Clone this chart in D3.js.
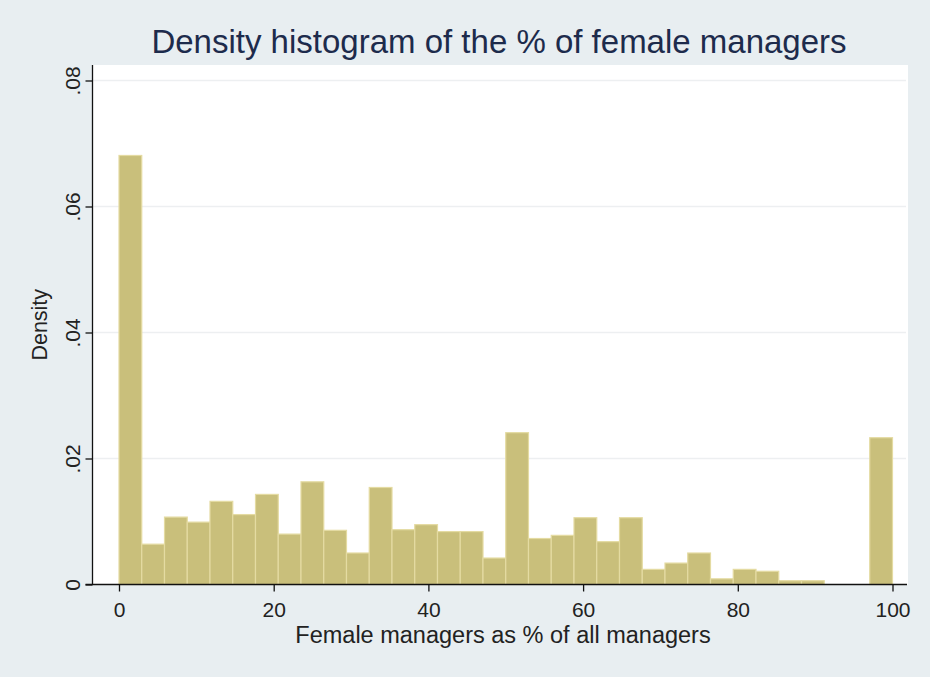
<!DOCTYPE html>
<html>
<head>
<meta charset="utf-8">
<script src="https://cdn.jsdelivr.net/npm/d3@7/dist/d3.min.js"></script>
<style>
  html, body { margin: 0; padding: 0; background: #e8eef1; }
  svg { display: block; font-family: "Liberation Sans", Arial, sans-serif; }
</style>
</head>
<body>
<svg id="chart" width="930" height="677"></svg>
<script>
// Histogram of female managers' share: 34 equal-width bins over 0–100
const binStart = 0;
const binEnd = 100;
const densities = [
  0.0681, 0.0064, 0.0107, 0.0099, 0.0132, 0.0111, 0.0143, 0.0080, 0.0163, 0.0086,
  0.0050, 0.0154, 0.0087, 0.0095, 0.0084, 0.0084, 0.0042, 0.0241, 0.0073, 0.0078,
  0.0106, 0.0068, 0.0106, 0.0024, 0.0034, 0.0050, 0.0009, 0.0024, 0.0021, 0.0006,
  0.0006, 0.0000, 0.0000, 0.0233
];
const xTicks = [0, 20, 40, 60, 80, 100];
const yTicks = [0, 0.02, 0.04, 0.06, 0.08];
const yTickLabels = ["0", ".02", ".04", ".06", ".08"];

const titleText = "Density histogram of the % of female managers";
const xTitle = "Female managers as % of all managers";
const yTitle = "Density";

const binWidth = (binEnd - binStart) / densities.length;
const bins = densities.map((d, i) => ({
  x0: binStart + i * binWidth,
  x1: binStart + (i + 1) * binWidth,
  density: d
}));

const svg = d3.select("#chart");
const W = 930, H = 677;
const plot = { left: 92.5, right: 908, top: 65, bottom: 584.5 };
const font = "Liberation Sans, Arial, sans-serif";

svg.append("rect").attr("width", W).attr("height", H).attr("fill", "#e8eef1");
svg.append("rect")
  .attr("x", plot.left).attr("y", plot.top)
  .attr("width", plot.right - plot.left).attr("height", plot.bottom - plot.top)
  .attr("fill", "#ffffff");

const x = d3.scaleLinear().domain([0, 100]).range([119, 892.5]);
const y = d3.scaleLinear().domain([0, 0.08]).range([plot.bottom, 80.5]);

// horizontal grid lines
svg.append("g")
  .selectAll("line")
  .data(yTicks.filter(t => t > 0))
  .join("line")
  .attr("x1", plot.left).attr("x2", plot.right - 2)
  .attr("y1", d => y(d)).attr("y2", d => y(d))
  .attr("stroke", "#edeff1").attr("stroke-width", 1.5);

// bars
svg.append("g")
  .selectAll("rect")
  .data(bins)
  .join("rect")
  .attr("x", d => x(d.x0))
  .attr("width", d => x(d.x1) - x(d.x0))
  .attr("y", d => y(d.density))
  .attr("height", d => y(0) - y(d.density))
  .attr("fill", "#c9bf7b")
  .attr("stroke", "#e4dba2")
  .attr("stroke-width", 1.2);

// x axis
const xAxis = svg.append("g")
  .attr("transform", `translate(0,${plot.bottom})`)
  .call(d3.axisBottom(x).tickValues(xTicks).tickSize(7).tickSizeOuter(0));
xAxis.select(".domain").remove();
xAxis.append("line")
  .attr("x1", plot.left - 7).attr("x2", plot.right - 1)
  .attr("stroke", "#111").attr("stroke-width", 1.3);
xAxis.selectAll(".tick line").attr("stroke", "#111").attr("stroke-width", 1.3);
xAxis.selectAll(".tick text")
  .attr("fill", "#222").attr("font-size", 21).attr("font-family", font)
  .attr("y", 32.5).attr("dy", 0);

// y axis
const yAxis = svg.append("g")
  .attr("transform", `translate(${plot.left},0)`)
  .call(d3.axisLeft(y).tickValues(yTicks).tickFormat((d, i) => yTickLabels[i]).tickSize(7).tickSizeOuter(0));
yAxis.select(".domain").remove();
yAxis.append("line")
  .attr("y1", plot.top).attr("y2", plot.bottom)
  .attr("stroke", "#111").attr("stroke-width", 1.3);
yAxis.selectAll(".tick line").attr("stroke", "#111").attr("stroke-width", 1.3);
yAxis.selectAll(".tick text")
  .attr("fill", "#222").attr("font-size", 21).attr("font-family", font)
  .attr("text-anchor", "middle")
  .attr("x", 0).attr("dy", 0)
  .attr("transform", "translate(-13,0) rotate(-90)");

// titles
svg.append("text")
  .attr("x", 499).attr("y", 53)
  .attr("text-anchor", "middle")
  .attr("font-size", 33)
  .attr("fill", "#1d2b4c")
  .text(titleText);

svg.append("text")
  .attr("x", 503).attr("y", 643)
  .attr("text-anchor", "middle")
  .attr("font-size", 23.5)
  .attr("fill", "#222")
  .text(xTitle);

svg.append("text")
  .attr("transform", `translate(47,${(plot.top + plot.bottom) / 2}) rotate(-90)`)
  .attr("text-anchor", "middle")
  .attr("font-size", 21.5)
  .attr("fill", "#222")
  .text(yTitle);
</script>
</body>
</html>
